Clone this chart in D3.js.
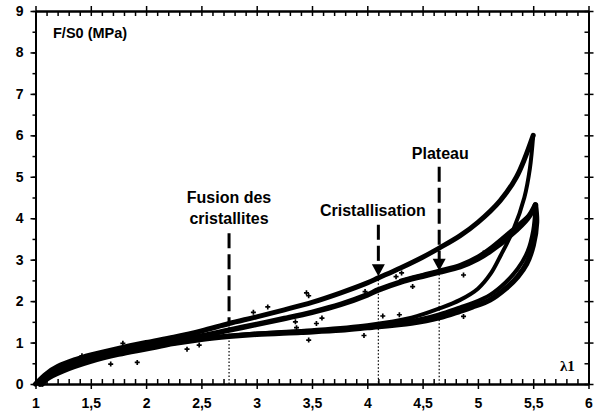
<!DOCTYPE html>
<html><head><meta charset="utf-8">
<script src="https://cdn.jsdelivr.net/npm/d3@7"></script>
<style>body{margin:0;background:#fff}svg{display:block}text{font-family:"Liberation Sans",Arial,sans-serif;font-weight:bold}</style>
</head><body><svg width="598" height="420"></svg>
<script>
// ---- data ----
const xMajorTicks = [1,1.5,2,2.5,3,3.5,4,4.5,5,5.5,6];
const yMajorTicks = [0,1,2,3,4,5,6,7,8,9];
const load1 = [[1,0],[1.1,0.25],[1.2,0.42],[1.35,0.58],[1.5,0.7],[1.75,0.86],[2,1.0],[2.25,1.13],[2.5,1.28],[2.75,1.46],[3,1.62],[3.25,1.79],[3.5,1.97],[3.76,2.2],[4,2.44],[4.1,2.56],[4.3,2.8],[4.5,3.06],[4.65,3.28],[4.84,3.58],[5,3.9],[5.2,4.42],[5.35,5.0],[5.5,6.0]];
const unload1 = [[5.5,6.0],[5.47,5.2],[5.42,4.5],[5.32,3.72],[5.2,3.07],[5.12,2.68],[5.0,2.3],[4.84,2.03],[4.66,1.83],[4.4,1.6],[4.0,1.42],[3.5,1.3],[3.0,1.22],[2.5,1.08],[2.0,0.86],[1.5,0.57],[1.25,0.35],[1.1,0.12],[1.06,0]];
const load2 = [[1.04,0],[1.1,0.15],[1.2,0.32],[1.35,0.5],[1.5,0.63],[1.75,0.8],[2,0.93],[2.25,1.04],[2.5,1.16],[2.75,1.3],[3,1.44],[3.25,1.58],[3.5,1.73],[3.76,1.92],[4,2.15],[4.1,2.27],[4.3,2.46],[4.5,2.6],[4.65,2.7],[4.84,2.83],[5,3.02],[5.12,3.22],[5.3,3.6],[5.45,4.0],[5.52,4.32]];
const load3 = [[4.3,2.5],[4.5,2.64],[4.65,2.74],[4.84,2.88],[5,3.08],[5.12,3.3],[5.3,3.7],[5.45,4.05],[5.52,4.25]];
const unload2 = [[5.52,4.32],[5.53,3.9],[5.5,3.35],[5.44,2.9],[5.36,2.59],[5.25,2.3],[5.11,2.03],[4.95,1.86],[4.84,1.76],[4.65,1.6],[4.4,1.47],[4.0,1.36],[3.76,1.3],[3.4,1.25],[3.0,1.2],[2.75,1.15],[2.5,1.08],[2.25,0.98],[2,0.85],[1.75,0.72],[1.5,0.55],[1.25,0.32],[1.1,0.12],[1.06,0]];
const unload3 = [[5.52,4.25],[5.5,3.7],[5.45,3.2],[5.36,2.78],[5.25,2.45],[5.11,2.15],[4.95,1.95],[4.84,1.85],[4.65,1.68],[4.4,1.52],[4.0,1.39],[3.76,1.33]];
const outliers = [[1.42,0.68],[1.68,0.48],[1.79,0.98],[1.92,0.52],[2.37,0.84],[2.48,0.94],[2.97,1.73],[3.1,1.86],[3.35,1.5],[3.36,1.36],[3.47,2.13],[3.45,2.2],[3.47,1.06],[3.54,1.46],[3.59,1.59],[3.97,1.17],[3.98,2.23],[4.14,1.64],[4.29,1.67],[4.26,2.59],[4.31,2.68],[4.41,2.35],[4.87,1.63],[4.87,2.63],[5.05,3.16]];
const annotations = [
  {label:["Fusion des","cristallites"], x:2.75, top:3.64, tip:1.47, head:false, textX:2.75, textY:[203,224]},
  {label:["Cristallisation"], x:4.1, top:3.84, tip:2.6, head:true, textX:4.05, textY:[216]},
  {label:["Plateau"], x:4.65, top:5.24, tip:2.73, head:true, textX:4.66, textY:[159]}
];

// ---- chart ----
const svg = d3.select("svg");
const x = d3.scaleLinear().domain([1,6]).range([35.5,588.5]);
const y = d3.scaleLinear().domain([0,9]).range([384,11]);
const fmt = d => String(d).replace(".", ",");
const minorX = d3.range(10,61).map(v=>v/10);
const minorY = d3.range(0,19).map(v=>v/2);

function styleAxis(g){ g.select(".domain").attr("stroke","#000").attr("stroke-width",2);
  g.selectAll(".tick line").attr("stroke","#000").attr("stroke-width",1.5); }

// curves
const line = d3.line().x(d=>x(d[0])).y(d=>y(d[1])).curve(d3.curveCatmullRom.alpha(0.5));
const curves = [load1, unload1, load2, load3, unload2, unload3];
const widths = [5, 4, 5.5, 3.5, 5.5, 4];
svg.append("g").selectAll("path").data(curves).join("path")
  .attr("d", line).attr("fill","none").attr("stroke","#000")
  .attr("stroke-width",(d,i)=>widths[i]).attr("stroke-linejoin","round").attr("stroke-linecap","round");

// outlier crosses
svg.append("g").selectAll("path").data(outliers).join("path")
  .attr("d", d3.symbol(d3.symbolCross, 14))
  .attr("transform", d=>`translate(${x(d[0])},${y(d[1])})`).attr("fill","#000");

// annotations
const ann = svg.append("g");
annotations.forEach(a=>{
  ann.append("line").attr("x1",x(a.x)).attr("x2",x(a.x)).attr("y1",y(a.tip)).attr("y2",y(0))
    .attr("stroke","#000").attr("stroke-width",1.2).attr("stroke-dasharray","1.5,2");
  const end = a.head ? y(a.tip)-11 : y(a.tip);
  ann.append("line").attr("x1",x(a.x)).attr("x2",x(a.x)).attr("y1",y(a.top)).attr("y2",end)
    .attr("stroke","#000").attr("stroke-width",3).attr("stroke-dasharray","15,6");
  if(a.head){
    const px=x(a.x), py=y(a.tip);
    ann.append("path").attr("d",`M${px-6.5},${py-12}L${px+6.5},${py-12}L${px},${py}Z`).attr("fill","#000");
  }
  a.label.forEach((t,i)=>{
    ann.append("text").attr("x",x(a.textX)).attr("y",a.textY[i]).attr("text-anchor","middle")
      .attr("font-size",16).attr("fill","#000").text(t);
  });
});

// axes
const gB = svg.append("g").attr("transform",`translate(0,${y(0)})`)
  .call(d3.axisBottom(x).tickValues(xMajorTicks).tickSize(5).tickSizeOuter(0).tickPadding(9).tickFormat(fmt));
gB.selectAll("text").attr("font-size",14).attr("fill","#000");
styleAxis(gB);
const gB2 = svg.append("g").attr("transform",`translate(0,${y(0)})`)
  .call(d3.axisTop(x).tickValues(minorX).tickSize(5).tickSizeOuter(0).tickFormat(""));
styleAxis(gB2);
const gT = svg.append("g").attr("transform",`translate(0,${y(9)})`)
  .call(d3.axisTop(x).tickValues(xMajorTicks).tickSize(5).tickSizeOuter(0).tickFormat(""));
styleAxis(gT);
const gT2 = svg.append("g").attr("transform",`translate(0,${y(9)})`)
  .call(d3.axisBottom(x).tickValues(minorX).tickSize(5).tickSizeOuter(0).tickFormat(""));
styleAxis(gT2);
const gL = svg.append("g").attr("transform",`translate(${x(1)},0)`)
  .call(d3.axisLeft(y).tickValues(minorY).tickSize(3).tickSizeOuter(0).tickFormat(""));
styleAxis(gL);
const gL2 = svg.append("g").attr("transform",`translate(${x(1)},0)`)
  .call(d3.axisLeft(y).tickValues(yMajorTicks).tickSize(5).tickSizeOuter(0).tickPadding(7).tickFormat(d3.format("d")));
gL2.selectAll("text").attr("font-size",14).attr("fill","#000");
styleAxis(gL2);
const gR = svg.append("g").attr("transform",`translate(${x(6)},0)`)
  .call(d3.axisLeft(y).tickValues(minorY).tickSize(4).tickSizeOuter(0).tickFormat(""));
styleAxis(gR);
const gR2 = svg.append("g").attr("transform",`translate(${x(6)},0)`)
  .call(d3.axisRight(y).tickValues(yMajorTicks).tickSize(5).tickSizeOuter(0).tickFormat(""));
styleAxis(gR2);

// axis titles
svg.append("text").attr("x",53).attr("y",38).attr("font-size",14.5).attr("fill","#000").text("F/S0 (MPa)");
svg.append("text").attr("x",560).attr("y",371).attr("font-size",15).attr("fill","#000")
  .style("font-family","'Liberation Serif','Times New Roman',serif").text("λ1");
</script></body></html>
